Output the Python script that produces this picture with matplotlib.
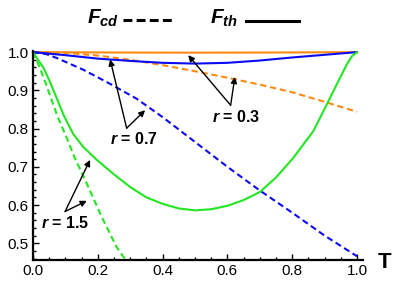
import matplotlib
matplotlib.use('Agg')
import matplotlib.pyplot as plt

plt.rcParams['font.family'] = 'Liberation Sans'
plt.rcParams['mathtext.fontset'] = 'custom'
plt.rcParams['mathtext.it'] = 'Liberation Sans:italic:bold'
plt.rcParams['mathtext.rm'] = 'Liberation Sans:bold'

# values
t_th = [0.0, 0.1, 0.2, 0.3, 0.4, 0.5, 0.6, 0.7, 0.8, 0.9, 1.0]
th_03 = [1.0, 0.9996, 0.9992, 0.9989, 0.9987, 0.9986, 0.9987, 0.9989, 0.9992, 0.9996, 1.0]
th_07 = [1.0, 0.992, 0.983, 0.977, 0.972, 0.970, 0.972, 0.978, 0.986, 0.993, 1.0]

t_g = [0.0, 0.033, 0.052, 0.073, 0.094, 0.124, 0.155, 0.197, 0.25, 0.3, 0.35, 0.4, 0.45, 0.5,
       0.55, 0.6, 0.65, 0.7, 0.75, 0.803, 0.865, 0.906, 0.937, 0.968, 0.984, 1.0]
th_15 = [1.0, 0.958, 0.923, 0.880, 0.836, 0.786, 0.752, 0.718, 0.680, 0.647, 0.620, 0.603, 0.591, 0.586,
         0.589, 0.598, 0.613, 0.634, 0.672, 0.723, 0.793, 0.862, 0.915, 0.967, 0.989, 1.0]

t_cd03 = [0.0, 0.1, 0.2, 0.3, 0.4, 0.5, 0.6, 0.7, 0.8, 0.9, 1.0]
cd_03 = [1.0, 0.998, 0.991, 0.980, 0.966, 0.950, 0.933, 0.915, 0.895, 0.870, 0.844]

t_cd07 = [0.0, 0.04, 0.075, 0.155, 0.238, 0.32, 0.4, 0.5, 0.6, 0.7, 0.8, 0.9, 1.0]
cd_07 = [1.0, 0.995, 0.984, 0.954, 0.917, 0.878, 0.83, 0.765, 0.70, 0.638, 0.58, 0.52, 0.466]

t_cd15 = [0.0, 0.0216, 0.042, 0.075, 0.106, 0.127, 0.166, 0.212, 0.258, 0.287]
cd_15 = [1.0, 0.958, 0.912, 0.833, 0.772, 0.727, 0.656, 0.569, 0.490, 0.455]

orange = '#FF8A10'
blue = '#0A0AF5'
green = '#22E622'
dash = (0, (3, 1.8))

fig = plt.figure(figsize=(4.04, 2.88), dpi=100)
ax = fig.add_axes([0.0817, 0.097, 0.818, 0.726])

ax.plot(t_th, th_03, color=orange, lw=1.5, clip_on=False)
ax.plot(t_cd03, cd_03, color=orange, lw=1.5, ls=dash, clip_on=False)
ax.plot(t_th, th_07, color=blue, lw=1.5, clip_on=False)
ax.plot(t_cd07, cd_07, color=blue, lw=1.5, ls=dash, clip_on=False)
ax.plot(t_g, th_15, color=green, lw=1.5, clip_on=False)
ax.plot(t_cd15, cd_15, color=green, lw=1.5, ls=dash)

ax.set_xlim(0, 1.02)
ax.set_ylim(0.456, 1.003)
ax.set_xticks([0.0, 0.2, 0.4, 0.6, 0.8, 1.0])
ax.set_xticks([i * 0.05 for i in range(21)], minor=True)
ax.set_yticks([0.5, 0.6, 0.7, 0.8, 0.9, 1.0])
ax.set_yticks([0.46 + i * 0.02 for i in range(28)], minor=True)
ax.set_xticklabels(['0.0', '0.2', '0.4', '0.6', '0.8', '1.0'])
ax.set_yticklabels(['0.5', '0.6', '0.7', '0.8', '0.9', '1.0'])
ax.tick_params(which='both', direction='in', width=1.0, labelsize=11, pad=3)
ax.tick_params(which='major', length=4)
ax.tick_params(which='minor', length=2)
for s in ['top', 'right']:
    ax.spines[s].set_visible(False)
for s in ['left', 'bottom']:
    ax.spines[s].set_linewidth(1.6)

fig.text(0.952, 0.09, 'T', fontsize=16, fontweight='bold', ha='center', va='center')

# legend drawn like the reference header
fig.text(0.215, 0.935, r'$F_{cd}$', fontsize=15, ha='left', va='center')
fig.add_artist(plt.Line2D([0.305, 0.432], [0.93, 0.93], color='k', lw=2.2, ls=(0, (2.9, 1.4))))
fig.text(0.52, 0.935, r'$F_{th}$', fontsize=15, ha='left', va='center')
fig.add_artist(plt.Line2D([0.61, 0.74], [0.928, 0.928], color='k', lw=2.2))

arw = dict(arrowstyle='-|>', color='k', lw=1.0, mutation_scale=9, shrinkA=0, shrinkB=0)
kw = dict(fontsize=11.5, fontweight='bold', ha='center', va='center')

ax.text(0.628, 0.829, r'$r$ = 0.3', **kw)
ax.annotate('', xy=(0.479, 0.992), xytext=(0.61, 0.861), arrowprops=arw)
ax.annotate('', xy=(0.623, 0.935), xytext=(0.61, 0.861), arrowprops=arw)

ax.text(0.313, 0.773, r'$r$ = 0.7', **kw)
ax.annotate('', xy=(0.238, 0.981), xytext=(0.289, 0.801), arrowprops=arw)
ax.annotate('', xy=(0.346, 0.848), xytext=(0.289, 0.801), arrowprops=arw)

ax.text(0.10, 0.553, r'$r$ = 1.5', **kw)
ax.annotate('', xy=(0.176, 0.718), xytext=(0.099, 0.583), arrowprops=arw)
ax.annotate('', xy=(0.166, 0.611), xytext=(0.099, 0.583), arrowprops=arw)

fig.savefig('out.png', dpi=100)
